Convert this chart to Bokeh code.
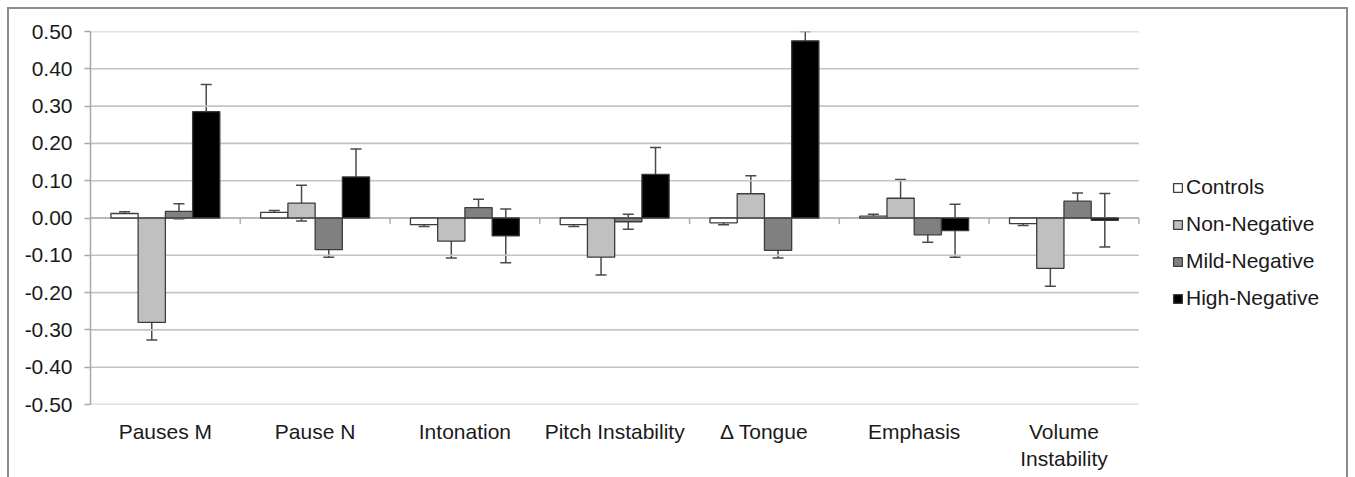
import numpy as np
from bokeh.plotting import figure
from bokeh.models import (ColumnDataSource, Range1d, FixedTicker, Whisker, TeeHead,
                          Legend, LegendItem, NumeralTickFormatter)
from bokeh.embed import file_html
from bokeh.resources import INLINE

categories = ["Pauses M", "Pause N", "Intonation", "Pitch Instability",
              "\u0394 Tongue", "Emphasis", "Volume\nInstability"]
groups = ["Controls", "Non-Negative", "Mild-Negative", "High-Negative"]
colors = ["#ffffff", "#c0c0c0", "#808080", "#000000"]

controls      = [0.012, 0.015, -0.018, -0.018, -0.013, 0.005, -0.015]
controls_err  = [0.005, 0.005, 0.005, 0.005, 0.005, 0.005, 0.005]
non_negative  = [-0.280, 0.040, -0.062, -0.105, 0.065, 0.053, -0.135]
non_neg_err   = [0.047, 0.048, 0.045, 0.048, 0.048, 0.050, 0.048]
mild_negative = [0.018, -0.085, 0.028, -0.010, -0.087, -0.045, 0.045]
mild_neg_err  = [0.020, 0.020, 0.022, 0.020, 0.020, 0.020, 0.022]
high_negative = [0.285, 0.110, -0.048, 0.117, 0.475, -0.034, -0.006]
high_neg_err  = [0.073, 0.075, 0.072, 0.072, 0.025, 0.071, 0.072]

y_ticks = [-0.5, -0.4, -0.3, -0.2, -0.1, 0.0, 0.1, 0.2, 0.3, 0.4, 0.5]

series = [(controls, controls_err), (non_negative, non_neg_err),
          (mild_negative, mild_neg_err), (high_negative, high_neg_err)]

FONT = "Liberation Sans"
TXT = "#1a1a1a"
FS = "21px"
GRID = "#c4c4c4"
AX = "#a8a8a8"
EDGE = "#3c3c3c"
ERR = "#4a4a4a"
ncat = len(categories)
bw = 1.0 / 5.5

# layout: category area is 1045 px of a 1251 px wide frame (legend sits in the rest)
FRAME_W = 1251
CAT_W = 1045
x_end = ncat * FRAME_W / CAT_W

p = figure(width=1341, height=470, output_backend="svg", toolbar_location=None,
           x_range=Range1d(0, x_end), y_range=Range1d(-0.5, 0.5),
           min_border_left=81, min_border_top=22, min_border_bottom=75,
           min_border_right=5, outline_line_color=None,
           styles={"border-top": "2px solid #8c8c8c", "border-left": "2px solid #8c8c8c",
                   "border-right": "2px solid #8c8c8c", "box-sizing": "border-box",
                   "margin": "7px 0 0 7px"})

# grid drawn only across the category area
p.xgrid.grid_line_color = None
p.ygrid.grid_line_color = None
yt = np.array(y_ticks)
p.segment(x0=np.zeros(len(yt)), y0=yt, x1=np.full(len(yt), ncat), y1=yt,
          line_color=GRID, line_width=1.6)

# zero axis line + category boundary ticks
p.segment(x0=[0], y0=[0], x1=[ncat], y1=[0], line_color="#b0b0b0", line_width=1.6)
bx = np.arange(1, ncat + 1)
p.segment(x0=bx, y0=np.zeros(ncat), x1=bx, y1=np.full(ncat, -0.016),
          line_color="#b0b0b0", line_width=1.5)

renderers = []
for j, ((vals, errs), name, col) in enumerate(zip(series, groups, colors)):
    xs = np.arange(ncat) + 0.5 + (j - 1.5) * bw
    v = np.array(vals)
    e = np.array(errs)
    src = ColumnDataSource(dict(x=xs, top=v, up=v + e, lo=v - e))
    r = p.vbar(x="x", top="top", bottom=0, width=bw, source=src,
               fill_color=col, line_color=EDGE, line_width=1.3)
    renderers.append(r)
    w = Whisker(base="x", upper="up", lower="lo", source=src,
                line_color=ERR, line_width=1.5,
                upper_head=TeeHead(size=11, line_color=ERR, line_width=1.5),
                lower_head=TeeHead(size=11, line_color=ERR, line_width=1.5))
    p.add_layout(w)

# axes
p.xaxis.ticker = FixedTicker(ticks=list(np.arange(ncat) + 0.5))
p.xaxis.major_label_overrides = {float(i + 0.5): c for i, c in enumerate(categories)}
p.xaxis.axis_line_color = None
p.xaxis.major_tick_line_color = None
p.xaxis.minor_tick_line_color = None
p.xaxis.major_label_standoff = 9
p.xaxis.major_label_text_font = FONT
p.xaxis.major_label_text_font_size = FS
p.xaxis.major_label_text_color = TXT

p.yaxis.ticker = FixedTicker(ticks=y_ticks)
p.yaxis.formatter = NumeralTickFormatter(format="0.00")
p.yaxis.axis_line_color = AX
p.yaxis.axis_line_width = 1.5
p.yaxis.major_tick_line_color = AX
p.yaxis.major_tick_line_width = 1.5
p.yaxis.major_tick_in = 0
p.yaxis.major_tick_out = 6
p.yaxis.minor_tick_line_color = None
p.yaxis.major_label_standoff = 12
p.yaxis.major_label_text_font = FONT
p.yaxis.major_label_text_font_size = FS
p.yaxis.major_label_text_color = TXT

legend = Legend(items=[LegendItem(label=g, renderers=[r]) for g, r in zip(groups, renderers)],
                location=(1082, 94), glyph_width=11, glyph_height=11,
                label_text_font=FONT, label_text_font_size=FS, label_text_color=TXT,
                label_standoff=3, spacing=13, padding=0, margin=0,
                border_line_color=None, background_fill_alpha=0)
p.add_layout(legend)

open("out.html", "w").write(file_html(p, INLINE))
